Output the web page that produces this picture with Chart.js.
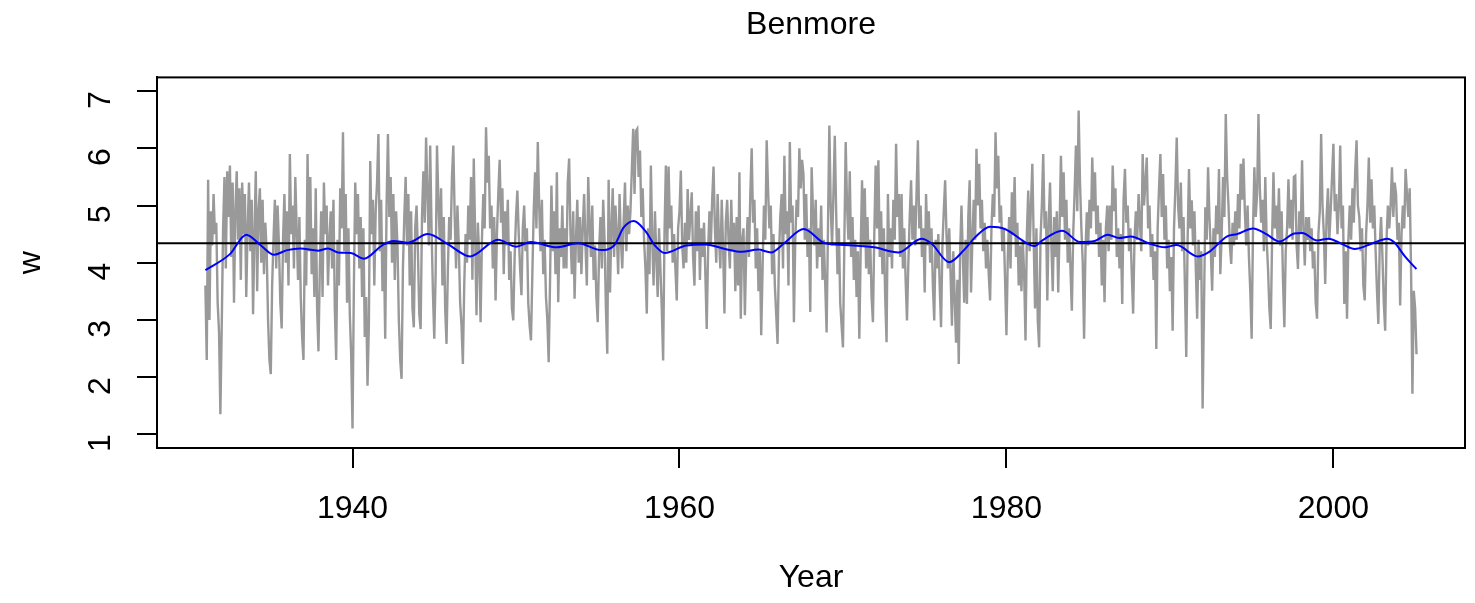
<!DOCTYPE html>
<html>
<head>
  <meta charset="utf-8">
  <title>Benmore</title>
  <script src="https://cdn.jsdelivr.net/npm/chart.js"></script>
  <style>
    body { margin: 0; background: #fff; }
    canvas { display: block; }
  </style>
</head>
<body>
  <canvas id="benmore" width="1475" height="603"></canvas>

  <script>
    // monthly w values, Jan 1931 onwards (one row per year)
    const startYear = 1931;
    const w = [
      3.6, 2.3, 5.45, 3.0, 4.9, 4.3, 5.2, 4.5, 4.7, 3.3, 2.8, 1.35,
      2.9, 4.6, 5.5, 3.9, 5.6, 4.8, 5.7, 4.1, 5.4, 3.3, 4.9, 5.6,
      4.4, 5.3, 3.7, 5.4, 4.5, 5.2, 3.4, 4.6, 5.4, 4.2, 5.1, 3.1,
      4.5, 5.6, 3.5, 4.9, 5.3, 4.0, 5.1, 3.8, 4.7, 4.2, 3.0, 2.3,
      2.05, 3.6, 4.4, 5.1, 3.9, 5.0, 4.3, 3.3, 2.85, 4.4, 5.2, 4.0,
      4.9, 3.6, 5.9, 4.5, 5.0, 3.9, 5.5, 4.6, 3.7, 4.8, 3.4, 2.7,
      2.3, 4.4, 3.6, 5.9, 4.2, 5.5, 3.8, 4.6, 3.4, 5.3, 3.2, 2.45,
      3.9, 4.9, 3.4, 5.4, 4.5, 5.0, 3.6, 4.4, 4.9, 3.9, 5.1, 3.2,
      2.3, 4.4, 3.6, 5.3, 4.6, 6.28, 4.2, 5.2, 3.3, 4.6, 3.1, 2.4,
      1.1, 3.6, 5.4, 4.5, 5.2, 3.9, 4.8, 3.4, 4.6, 2.7, 3.4, 1.85,
      2.9, 5.78, 4.5, 5.1, 3.6, 4.9, 5.4, 6.25, 4.2, 5.1, 3.5, 4.3,
      2.67, 5.0, 6.25, 4.8, 5.5, 4.0, 5.2, 3.7, 4.9, 4.3, 3.0, 2.3,
      1.97, 3.9, 4.8, 5.5, 4.3, 5.2, 3.6, 4.9, 3.2, 2.87, 4.6, 5.0,
      4.2, 3.1, 2.84, 4.8, 5.6, 4.7, 6.19, 5.2, 4.3, 6.05, 4.6, 3.5,
      2.67, 3.8, 6.05, 5.1, 4.4, 5.3, 3.6, 4.8, 3.2, 2.58, 3.9, 4.8,
      4.4, 5.5, 6.05, 4.8, 3.9, 5.0, 4.3, 3.3, 2.9, 2.23, 3.6, 4.5,
      4.0, 5.0, 4.4, 5.5, 3.7, 5.82, 4.5, 3.08, 4.7, 4.1, 2.96, 4.4,
      5.2, 4.6, 6.37, 5.4, 5.87, 4.6, 5.0, 3.9, 4.8, 3.34, 4.5, 5.2,
      5.8, 4.7, 5.3, 3.8, 4.9, 4.3, 5.1, 3.7, 4.2, 3.2, 2.99, 4.1,
      4.8, 5.26, 4.5, 3.9, 3.43, 4.6, 5.0, 4.2, 4.6, 3.3, 2.9, 2.64,
      3.8, 4.9, 5.58, 4.6, 6.11, 5.0, 4.2, 5.1, 3.8, 4.4, 3.4, 3.0,
      2.26, 3.7, 5.35, 4.2, 4.9, 3.8, 5.58, 3.31, 4.6, 4.1, 5.0, 3.9,
      4.6, 3.9, 5.4, 5.82, 4.5, 3.8, 4.9, 3.37, 4.4, 5.1, 4.0, 4.8,
      3.8, 4.6, 5.2, 4.3, 3.6, 5.5, 4.7, 4.1, 5.0, 3.7, 4.3, 3.4,
      2.96, 4.2, 4.8, 3.9, 5.1, 4.4, 3.2, 2.41, 5.45, 3.48, 4.6, 5.3,
      4.1, 5.0, 4.5, 3.8, 5.2, 4.4, 3.9, 4.7, 5.4, 4.2, 5.0, 4.5,
      4.9, 5.6, 6.34, 5.2, 6.3, 6.34, 5.5, 5.96, 4.8, 5.3, 4.4, 3.9,
      3.11, 4.6, 3.8, 5.7, 4.4, 3.6, 4.9, 4.1, 3.4, 4.6, 3.9, 3.2,
      2.29, 4.5, 5.7, 4.2, 5.68, 4.6, 5.0, 4.0, 4.5, 3.9, 3.34, 4.6,
      4.9, 5.61, 4.3, 3.9, 4.7, 4.0, 5.29, 4.4, 4.8, 5.23, 4.1, 3.6,
      4.9, 4.2, 5.0, 3.7, 4.6, 4.1, 4.7, 3.8, 2.84, 4.2, 4.9, 4.3,
      5.1, 5.68, 4.6, 4.0, 5.2, 4.4, 3.9, 5.1, 4.3, 3.11, 4.7, 5.1,
      4.4, 3.9, 5.1, 4.2, 4.7, 3.5, 4.8, 3.6, 5.58, 3.02, 4.4, 4.6,
      3.08, 4.2, 4.8, 4.1, 5.2, 6.0, 4.7, 5.1, 3.9, 4.6, 3.5, 4.2,
      2.73, 3.9, 5.0, 4.4, 6.14, 5.3, 4.6, 5.0, 3.8, 4.5, 3.6, 3.1,
      2.58, 4.1, 4.8, 5.2, 3.9, 5.87, 4.5, 4.9, 3.6, 6.11, 4.7, 5.0,
      2.96, 4.4, 5.1, 4.8, 6.0, 5.3, 5.8, 5.55, 4.4, 5.2, 4.1, 4.6,
      3.14, 5.67, 4.9, 4.3, 5.1, 3.9, 4.6, 4.1, 5.0, 3.7, 4.4, 3.6,
      2.78, 4.6, 6.4, 5.0, 4.3, 5.2, 6.22, 4.9, 3.8, 4.6, 3.3, 2.9,
      2.52, 4.3, 6.11, 5.0, 4.4, 5.6, 4.1, 4.8, 3.7, 4.4, 3.4, 4.2,
      2.67, 4.2, 5.44, 4.3, 5.3, 3.9, 4.8, 3.8, 4.4, 3.4, 2.96, 4.5,
      5.7, 4.6, 5.79, 4.1, 4.9, 3.8, 4.6, 3.4, 2.61, 5.2, 4.1, 4.6,
      3.9, 5.1, 4.4, 6.08, 4.8, 5.2, 4.1, 5.2, 3.9, 4.6, 3.7, 2.99,
      4.0, 4.8, 5.44, 4.4, 5.0, 4.3, 5.2, 6.14, 4.6, 5.0, 4.1, 4.6,
      3.48, 5.2, 4.3, 4.9, 4.0, 4.6, 3.6, 2.99, 4.4, 3.9, 4.5, 3.6,
      2.87, 4.3, 4.9, 5.44, 4.5, 3.9, 4.6, 3.8, 2.9, 4.2, 3.4, 2.6,
      3.7, 2.23, 4.2, 5.0, 4.1, 3.3, 4.4, 3.28, 4.8, 5.44, 3.48, 4.4,
      5.1, 4.4, 5.99, 5.0, 5.73, 4.6, 5.1, 4.2, 4.7, 3.9, 4.4, 3.8,
      3.34, 4.6, 5.2, 4.8, 6.28, 5.3, 5.87, 4.7, 5.0, 4.2, 4.6, 3.7,
      2.73, 4.1, 4.8, 3.9, 5.23, 4.5, 5.5, 4.1, 4.7, 3.6, 4.3, 3.5,
      4.4, 3.8, 2.64, 4.5, 5.26, 4.2, 5.0, 5.73, 4.4, 3.2, 4.6, 3.0,
      2.52, 4.4, 5.0, 5.9, 4.6, 4.9, 3.34, 4.7, 5.4, 4.3, 3.5, 4.8,
      4.1, 4.9, 3.48, 4.6, 5.87, 4.8, 5.58, 4.4, 5.1, 4.0, 4.6, 3.9,
      3.16, 4.5, 5.2, 6.05, 4.9, 6.66, 5.4, 4.6, 4.0, 2.67, 4.2, 4.88,
      4.3, 5.1, 4.6, 5.84, 4.9, 5.58, 4.5, 5.0, 4.1, 4.7, 3.6, 4.4,
      3.31, 4.6, 5.0, 4.2, 5.0, 4.4, 5.7, 4.9, 5.3, 4.1, 4.6, 3.9,
      4.5, 3.28, 5.1, 5.64, 4.7, 5.0, 4.2, 4.6, 3.8, 3.11, 4.4, 4.9,
      4.4, 5.2, 4.7, 4.2, 5.9, 5.0, 5.4, 5.84, 4.6, 5.0, 4.1, 4.5,
      3.7, 4.2, 2.49, 4.6, 5.3, 5.9, 4.8, 5.55, 4.4, 5.0, 3.9, 4.4,
      3.5, 4.1, 2.81, 4.6, 5.3, 6.19, 5.0, 4.6, 5.4, 4.2, 4.8, 3.6,
      2.35, 4.4, 5.64, 4.6, 5.09, 4.3, 4.9, 3.9, 3.02, 4.4, 3.7, 4.2,
      1.45, 3.2, 4.97, 4.4, 5.67, 4.8, 4.2, 3.51, 4.6, 4.1, 5.0, 4.5,
      5.64, 3.8, 4.5, 5.5, 4.8, 6.6, 5.5, 5.0, 4.3, 3.98, 4.7, 4.3,
      4.9, 4.4, 5.2, 4.6, 5.73, 5.1, 5.82, 4.9, 4.3, 5.0, 4.1, 3.5,
      2.67, 4.6, 5.67, 4.8, 5.2, 6.6, 5.3, 4.7, 5.1, 4.2, 5.5, 4.4,
      3.9, 3.2, 2.84, 4.4, 5.58, 4.6, 5.0, 4.4, 5.3, 4.3, 4.9, 3.7,
      2.87, 4.2, 4.6, 5.46, 4.6, 5.1, 4.4, 5.5, 5.52, 4.3, 3.89, 4.9,
      4.5, 5.79, 4.6, 3.95, 4.8, 4.4, 4.8, 4.2, 4.6, 3.9, 4.2, 3.3,
      3.02, 4.5, 4.9, 6.25, 5.0, 4.5, 3.63, 4.8, 5.3, 4.4, 4.9, 5.5,
      6.08, 4.9, 5.2, 4.5, 5.0, 6.05, 4.6, 5.0, 3.28, 4.2, 3.02, 4.4,
      5.0, 4.4, 5.3, 4.7, 5.6, 6.14, 5.0, 4.8, 4.2, 4.6, 3.6, 3.34,
      4.5, 5.0, 5.84, 4.7, 5.46, 4.6, 5.0, 4.2, 3.5, 2.93, 4.3, 4.8,
      4.1, 3.3, 2.81, 4.4, 5.0, 4.6, 5.0, 5.67, 4.8, 5.4, 5.2, 4.4,
      4.7, 3.25, 4.5, 5.0, 4.6, 5.64, 5.2, 4.8, 5.3, 3.9, 1.71, 3.51,
      3.2, 2.4
    ];

    // smoothed trend (blue), read at these years
    const trendYears = [1931.0, 1932.5, 1933.5, 1934.4, 1935.2, 1936.0, 1936.8, 1937.9, 1938.5, 1939.1,
      1939.9, 1940.7, 1941.8, 1942.5, 1943.4, 1944.6, 1945.8, 1947.2, 1948.9, 1950.0,
      1950.9, 1952.5, 1953.8, 1955.2, 1956.0, 1956.6, 1957.2, 1957.9, 1958.5, 1959.1,
      1960.4, 1961.6, 1962.8, 1963.8, 1964.8, 1965.6, 1966.4, 1967.6, 1968.9, 1970.1,
      1971.9, 1973.4, 1974.8, 1975.4, 1976.5, 1977.4, 1978.1, 1979.0, 1979.9, 1981.3,
      1981.7, 1982.2, 1983.4, 1984.5, 1985.4, 1986.2, 1986.9, 1987.6, 1988.7, 1989.7,
      1990.4, 1991.7, 1992.4, 1993.5, 1994.1, 1995.1, 1995.9, 1996.7, 1997.6, 1998.1,
      1999.0, 1999.7, 2000.5, 2001.3, 2002.4, 2003.3, 2003.7, 2004.4, 2005.08];
    const trendVals = [3.87, 4.15, 4.49, 4.30, 4.14, 4.22, 4.25, 4.21, 4.25, 4.18,
      4.17, 4.07, 4.30, 4.38, 4.35, 4.50, 4.33, 4.11, 4.40, 4.28,
      4.36, 4.27, 4.34, 4.22, 4.30, 4.62, 4.73, 4.56, 4.30, 4.17,
      4.30, 4.32, 4.24, 4.19, 4.23, 4.18, 4.34, 4.59, 4.34, 4.31,
      4.27, 4.18, 4.42, 4.34, 4.01, 4.22, 4.45, 4.63, 4.59, 4.33,
      4.29, 4.39, 4.56, 4.36, 4.38, 4.49, 4.43, 4.46, 4.34, 4.27,
      4.31, 4.11, 4.19, 4.46, 4.50, 4.60, 4.50, 4.37, 4.51, 4.52,
      4.39, 4.42, 4.33, 4.24, 4.34, 4.42, 4.36, 4.10, 3.89];

    const meanW = 4.34;
    const xTicks = [1940, 1960, 1980, 2000];
    const yTicks = [1, 2, 3, 4, 5, 6, 7];
    const xRange = [1928.04, 2008.05];
    const yRange = [0.76, 7.24];

    const FONT = "'Liberation Sans', Arial, sans-serif";
    const FS = 32;
    Chart.defaults.font.family = FONT;
    Chart.defaults.color = '#000';

    const grayData = w.map((v, i) => ({ x: startYear + i / 12, y: v }));
    const trendData = trendYears.map((x, i) => ({ x, y: trendVals[i] }));
    const meanData = xRange.map(x => ({ x, y: meanW }));

    const boxPlugin = {
      id: 'box',
      afterDraw(chart) {
        const a = chart.chartArea, c = chart.ctx;
        c.save();
        c.strokeStyle = '#000';
        c.lineWidth = 2;
        c.strokeRect(a.left, a.top, a.right - a.left, a.bottom - a.top);
        c.restore();
      }
    };

    const axisStyle = {
      grid: { display: true, drawOnChartArea: false, drawTicks: true, tickLength: 20, color: '#000', lineWidth: 2 },
      border: { display: true, color: '#000', width: 2 }
    };

    new Chart(document.getElementById('benmore'), {
      type: 'line',
      data: {
        datasets: [
          { data: trendData, borderColor: '#0000ff', borderWidth: 2, pointRadius: 0, tension: 0.4, cubicInterpolationMode: 'monotone', order: 1 },
          { data: meanData, borderColor: '#000', borderWidth: 2, pointRadius: 0, order: 2 },
          { data: grayData, borderColor: '#999999', borderWidth: 2.4, pointRadius: 0, tension: 0, order: 3 }
        ]
      },
      options: {
        responsive: false,
        animation: false,
        devicePixelRatio: 1,
        clip: false,
        layout: { padding: { left: 12, right: 10, top: 0, bottom: 6 } },
        plugins: {
          legend: { display: false },
          tooltip: { enabled: false },
          title: { display: true, fullSize: false, text: 'Benmore', font: { size: FS, weight: 'normal' }, color: '#000', padding: { top: 6, bottom: 33 } }
        },
        scales: {
          x: {
            type: 'linear', min: xRange[0], max: xRange[1],
            afterBuildTicks: s => { s.ticks = xTicks.map(v => ({ value: v })); },
            afterFit: s => { s.height = 149; },
            ticks: { font: { size: FS }, padding: 22, maxRotation: 0, callback: v => String(v) },
            title: { display: true, text: 'Year', font: { size: FS }, padding: 0 },
            ...axisStyle
          },
          y: {
            type: 'linear', min: yRange[0], max: yRange[1],
            afterBuildTicks: s => { s.ticks = yTicks.map(v => ({ value: v })); },
            afterFit: s => { s.width = 145; },
            ticks: { font: { size: FS }, padding: 36, minRotation: 90, maxRotation: 90 },
            title: { display: true, text: 'w', font: { size: FS }, padding: 0 },
            ...axisStyle
          }
        }
      },
      plugins: [boxPlugin]
    });
  </script>
</body>
</html>
